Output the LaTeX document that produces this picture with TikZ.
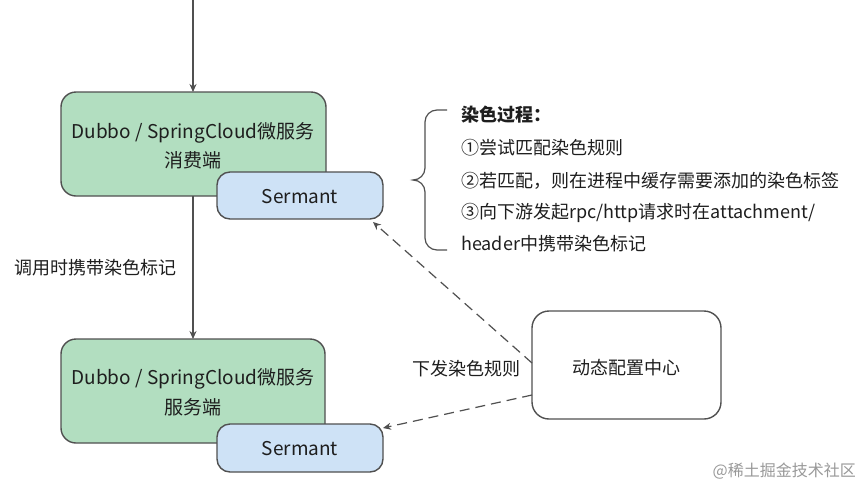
\documentclass[tikz,border=0pt]{standalone}
\usepackage{fontspec}
\setmainfont{Noto Sans CJK SC}
\usetikzlibrary{arrows.meta}
\definecolor{greenfill}{RGB}{178,222,192}
\definecolor{bluefill}{RGB}{206,226,246}
\definecolor{edgegray}{RGB}{80,80,80}
\definecolor{txt}{RGB}{30,30,30}
\begin{document}
\begin{tikzpicture}[x=1pt,y=-1pt,
  svc/.style={draw=edgegray,line width=1.4pt,fill=greenfill,rounded corners=15pt,inner sep=0pt},
  sermbox/.style={draw=edgegray,line width=1.4pt,fill=bluefill,rounded corners=13pt,inner sep=0pt},
  cfgbox/.style={draw=edgegray,line width=1.4pt,fill=white,rounded corners=17pt,inner sep=0pt},
  lbl/.style={text=txt,font=\fontsize{18}{20}\selectfont,inner sep=0pt},
  boxlbl/.style={text=txt,font=\fontsize{19}{21}\selectfont,inner sep=0pt},
  conn/.style={draw=edgegray,line width=1.2pt,-{Stealth[length=8pt,width=7pt]}},
  dconn/.style={conn,dash pattern=on 10pt off 6pt},
]
\useasboundingbox[fill=white] (0,0) rectangle (865,491);

% consumer
\path[svc] (61,92) rectangle (326,196);
\node[boxlbl] (cons) at (193,133) {Dubbo / SpringCloud微服务};
\node[boxlbl] (cons2) at (193,160) {消费端};
\coordinate (constop) at (193,92);
\coordinate (consbot) at (193,196);
\path[sermbox] (217,172) rectangle (383,219);
\node[boxlbl] (serm1) at (300,197) {Sermant};

% provider
\path[svc] (61,339) rectangle (325,443);
\node[boxlbl] (prov) at (193,379) {Dubbo / SpringCloud微服务};
\node[boxlbl] (prov2) at (193,407) {服务端};
\coordinate (provtop) at (193,339);
\path[sermbox] (217,424) rectangle (383,472);
\node[boxlbl] (serm2) at (300,449) {Sermant};

% config center
\path[cfgbox] (532,311) rectangle (721,419);
\node[lbl] (cfg) at (626,368) {动态配置中心};

% arrows
\coordinate (topstart) at (193,0);
\draw[conn] (topstart) -- (constop);
\draw[conn] (consbot) -- (provtop);
\node[lbl] (calllbl) at (95,268) {调用时携带染色标记};

\coordinate (c1) at (532,363);
\coordinate (s1) at (373,222);
\coordinate (c2) at (532,395);
\coordinate (s2) at (383,428);
\draw[dconn] (c1) -- (s1);
\draw[dconn] (c2) -- (s2);
\node[lbl] (ruleslbl) at (466,369) {下发染色规则};

% brace
\draw[edgegray,line width=1.2pt] (447,110) -- (437,110) to[out=180,in=90] (425,122) -- (425,168) to[out=-90,in=0] (413,180) to[out=0,in=90] (425,192) -- (425,238) to[out=-90,in=180] (437,250) -- (447,250);

% process text
\node[lbl,anchor=west,font=\fontsize{18}{20}\selectfont\bfseries] (t0) at (461,115) {染色过程：};
\node[lbl,anchor=west] (t1) at (461,148) {①尝试匹配染色规则};
\node[lbl,anchor=west] (t2) at (461,181) {②若匹配，则在进程中缓存需要添加的染色标签};
\node[lbl,anchor=west] (t3) at (461,213) {③向下游发起rpc/http请求时在attachment/};
\node[lbl,anchor=west] (t4) at (461,244) {header中携带染色标记};

% watermark
\node[text=black!40,font=\fontsize{16}{18}\selectfont,anchor=east,inner sep=0pt] (wm) at (856,471) {@稀土掘金技术社区};
\end{tikzpicture}
\end{document}
